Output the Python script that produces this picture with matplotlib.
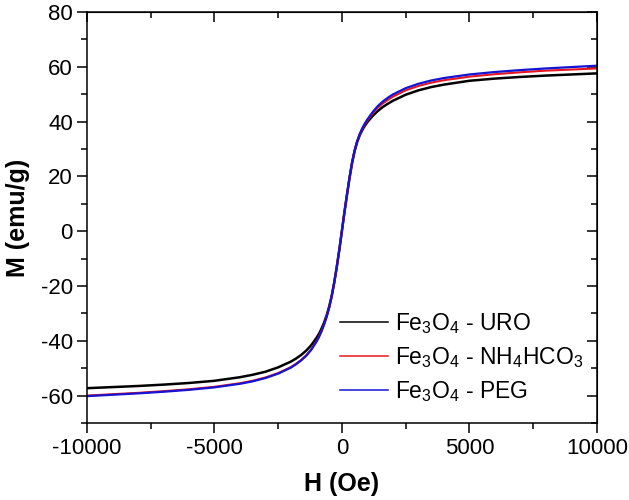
import matplotlib
matplotlib.use("Agg")
import matplotlib.pyplot as plt
from matplotlib.ticker import MultipleLocator

plt.rcParams['font.family'] = ['Liberation Sans', 'DejaVu Sans']
plt.rcParams['mathtext.fontset'] = 'custom'
plt.rcParams['mathtext.rm'] = 'Liberation Sans'
plt.rcParams['mathtext.it'] = 'Liberation Sans:italic'
plt.rcParams['mathtext.bf'] = 'Liberation Sans:bold'
plt.rcParams['axes.unicode_minus'] = False

# Field values (Oe), negative branch and positive branch
H_neg = [-10000, -9000, -8000, -7000, -6000, -5000, -4000, -3500, -3000, -2500,
         -2000, -1800, -1600, -1400, -1200, -1000, -900, -800, -700, -600,
         -500, -400, -300, -200, -100]
H_pos = [0, 100, 200, 300, 400, 500, 600, 700, 800, 900, 1000, 1200, 1400,
         1600, 1800, 2000, 2500, 3000, 3500, 4000, 5000, 6000, 7000, 8000,
         9000, 10000]

# Magnetization (emu/g)
M_uro_neg = [-57.3, -56.9, -56.5, -56.0, -55.4, -54.6, -53.3, -52.4, -51.3,
             -49.7, -47.6, -46.5, -45.2, -43.6, -41.6, -39.0, -37.5, -35.6,
             -33.4, -30.8, -27.6, -23.6, -18.7, -13.0, -6.8]
M_uro_pos = [0.0, 6.8, 13.2, 19.3, 24.8, 29.2, 32.5, 35.0, 36.9, 38.5, 39.8,
             42.0, 43.8, 45.3, 46.5, 47.6, 49.8, 51.4, 52.6, 53.5, 54.9, 55.7,
             56.3, 56.8, 57.2, 57.6]

M_nh4_neg = [-60.0, -59.5, -59.0, -58.4, -57.7, -56.8, -55.5, -54.6, -53.4,
             -51.8, -49.6, -48.4, -47.0, -45.3, -43.1, -40.2, -38.5, -36.4,
             -34.0, -31.2, -27.9, -23.8, -18.8, -13.1, -6.8]
M_nh4_pos = [0.0, 6.9, 13.3, 19.5, 25.0, 29.4, 32.7, 35.3, 37.3, 39.0, 40.4,
             42.9, 45.0, 46.6, 47.9, 49.1, 51.4, 53.0, 54.2, 55.1, 56.4, 57.3,
             58.0, 58.6, 59.0, 59.4]

M_peg_neg = [-60.2, -59.7, -59.2, -58.6, -57.9, -57.0, -55.7, -54.8, -53.6,
             -52.0, -49.8, -48.6, -47.2, -45.5, -43.3, -40.4, -38.7, -36.6,
             -34.2, -31.4, -28.0, -23.9, -18.9, -13.1, -6.8]
M_peg_pos = [0.0, 7.0, 13.4, 19.7, 25.2, 29.6, 32.9, 35.5, 37.6, 39.3, 40.8,
             43.4, 45.6, 47.3, 48.7, 49.9, 52.2, 53.8, 55.0, 55.9, 57.2, 58.1,
             58.8, 59.4, 59.9, 60.4]

H = H_neg + H_pos

fig = plt.figure(figsize=(6.29, 5.0), dpi=100)
ax = fig.add_axes([0.138, 0.154, 0.811, 0.822])

ax.plot(H, M_uro_neg + M_uro_pos, color="black", lw=1.8,
        label="Fe$_3$O$_4$ - URO")
ax.plot(H, M_nh4_neg + M_nh4_pos, color="#e8141e", lw=1.5,
        label="Fe$_3$O$_4$ - NH$_4$HCO$_3$")
ax.plot(H, M_peg_neg + M_peg_pos, color="#1414d2", lw=1.6,
        label="Fe$_3$O$_4$ - PEG")

ax.set_xlim(-10000, 10000)
ax.set_ylim(-70, 80)
ax.xaxis.set_major_locator(MultipleLocator(5000))
ax.xaxis.set_minor_locator(MultipleLocator(2500))
ax.yaxis.set_major_locator(MultipleLocator(20))
ax.yaxis.set_minor_locator(MultipleLocator(10))
ax.tick_params(which="both", direction="out", width=1.1, labelsize=16,
               colors="black")
ax.tick_params(axis="x", which="major", length=7, pad=4)
ax.tick_params(axis="y", which="major", length=7, pad=3)
ax.tick_params(which="minor", length=4)
for sp in ax.spines.values():
    sp.set_linewidth(1.1)

# top and right axes with inward ticks, no labels
top = ax.secondary_xaxis("top")
top.xaxis.set_major_locator(MultipleLocator(5000))
top.xaxis.set_minor_locator(MultipleLocator(2500))
top.tick_params(which="both", direction="in", width=1.1, labeltop=False)
top.tick_params(which="major", length=7)
top.tick_params(which="minor", length=4)
right = ax.secondary_yaxis("right")
right.yaxis.set_major_locator(MultipleLocator(20))
right.yaxis.set_minor_locator(MultipleLocator(10))
right.tick_params(which="both", direction="in", width=1.1, labelright=False)
right.tick_params(which="major", length=7)
right.tick_params(which="minor", length=4)

ax.set_xlabel("H (Oe)", fontsize=18, fontweight="bold", labelpad=9)
ax.set_ylabel("M (emu/g)", fontsize=18, fontweight="bold", labelpad=8)

leg = ax.legend(loc="center left", bbox_to_anchor=(0.496, 0.16), frameon=False,
                fontsize=16.5, handlelength=2.1, handletextpad=0.3,
                labelspacing=0.4, borderpad=0, borderaxespad=0)
for ln in leg.get_lines():
    ln.set_linewidth(1.1)

fig.savefig("out.png", dpi=100)
